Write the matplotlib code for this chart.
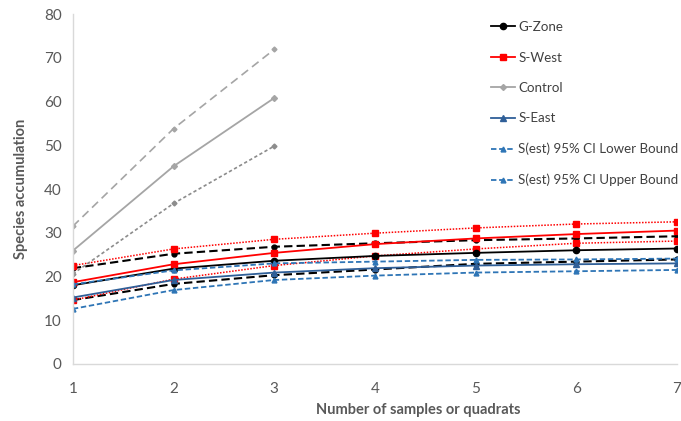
import matplotlib.pyplot as plt

plt.rcParams['font.family'] = ['Lato', 'DejaVu Sans']

samples = [1, 2, 3, 4, 5, 6, 7]
control_x = [1, 2, 3]

gzone = [18.0, 21.8, 23.6, 24.7, 25.4, 26.0, 26.4]
gzone_lo = [14.6, 18.3, 20.3, 21.6, 22.9, 23.4, 23.9]
gzone_hi = [21.9, 25.2, 26.8, 27.6, 28.3, 28.7, 29.2]

swest = [18.7, 22.8, 25.4, 27.4, 28.7, 29.7, 30.5]
swest_lo = [14.6, 19.4, 22.5, 24.7, 26.3, 27.6, 28.1]
swest_hi = [22.5, 26.3, 28.5, 29.9, 31.1, 32.0, 32.5]

control = [25.9, 45.2, 60.8]
control_lo = [20.6, 36.7, 49.8]
control_hi = [31.5, 53.8, 71.9]

seast = [15.2, 19.2, 20.9, 21.9, 22.5, 22.8, 23.0]
seast_lo = [12.6, 16.9, 19.2, 20.2, 20.9, 21.2, 21.5]
seast_hi = [18.2, 21.4, 23.0, 23.4, 23.8, 23.9, 24.1]

grey_txt = '#595959'
blue = '#2F5F98'
blue_ci = '#2E75B6'

fig = plt.figure(figsize=(6.81, 4.21), dpi=100)
ax = fig.add_axes([0.107, 0.1354, 0.887, 0.8313])

# confidence bounds without legend entries
ax.plot(samples, gzone_hi, color='black', ls=(0, (4, 2)), lw=1.5, marker='o', ms=3.5)
ax.plot(samples, gzone_lo, color='black', ls=(0, (4, 2)), lw=1.5, marker='o', ms=3.5)
ax.plot(samples, swest_hi, color='#FF0000', ls=(0, (1, 1)), lw=1.1, marker='s', ms=4)
ax.plot(samples, swest_lo, color='#FF0000', ls=(0, (1, 1)), lw=1.1, marker='s', ms=4)
ax.plot(control_x, control_hi, color='#A5A5A5', ls=(0, (5, 3)), lw=1.2, marker='D', ms=2.5)
ax.plot(control_x, control_lo, color='#8C8C8C', ls=(0, (2, 1.5)), lw=1.2, marker='D', ms=2.5)

ax.plot(samples, gzone, color='black', lw=1.3, marker='o', ms=4.5, label='G-Zone')
ax.plot(samples, swest, color='#FF0000', lw=1.3, marker='s', ms=4.5, label='S-West')
ax.plot(control_x, control, color='#A5A5A5', lw=1.3, marker='D', ms=3, label='Control')
ax.plot(samples, seast, color=blue, lw=1.3, marker='^', ms=4, label='S-East')
ax.plot(samples, seast_lo, color=blue_ci, ls=(0, (3, 1.5)), lw=1.3, marker='^', ms=3.5,
        label='S(est) 95% CI Lower Bound')
ax.plot(samples, seast_hi, color=blue_ci, ls=(0, (3, 1.5)), lw=1.3, marker='^', ms=3.5,
        label='S(est) 95% CI Upper Bound')

ax.set_xlim(1, 7)
ax.set_ylim(0, 80)
ax.set_xticks(samples)
ax.set_yticks(range(0, 81, 10))
for s in ['top', 'right']:
    ax.spines[s].set_visible(False)
for s in ['left', 'bottom']:
    ax.spines[s].set_color('#D9D9D9')
    ax.spines[s].set_linewidth(1)
ax.tick_params(length=0, labelsize=11, colors=grey_txt, pad=8)
ax.tick_params(axis='x', pad=13)

ax.set_xlabel('Number of samples or quadrats', fontsize=10.5, fontweight='bold', color=grey_txt)
ax.xaxis.set_label_coords(0.571, -0.112)
ax.set_ylabel('Species accumulation', fontsize=10.5, fontweight='bold', color=grey_txt)
ax.yaxis.set_label_coords(-0.075, 0.5)

leg = ax.legend(loc='upper left', bbox_to_anchor=(0.684, 0.995), frameon=False,
                fontsize=9.6, labelspacing=1.38, handlelength=1.8, handletextpad=0.2,
                borderaxespad=0)
for t in leg.get_texts():
    t.set_color('#404040')

fig.savefig('out.png', dpi=100)
